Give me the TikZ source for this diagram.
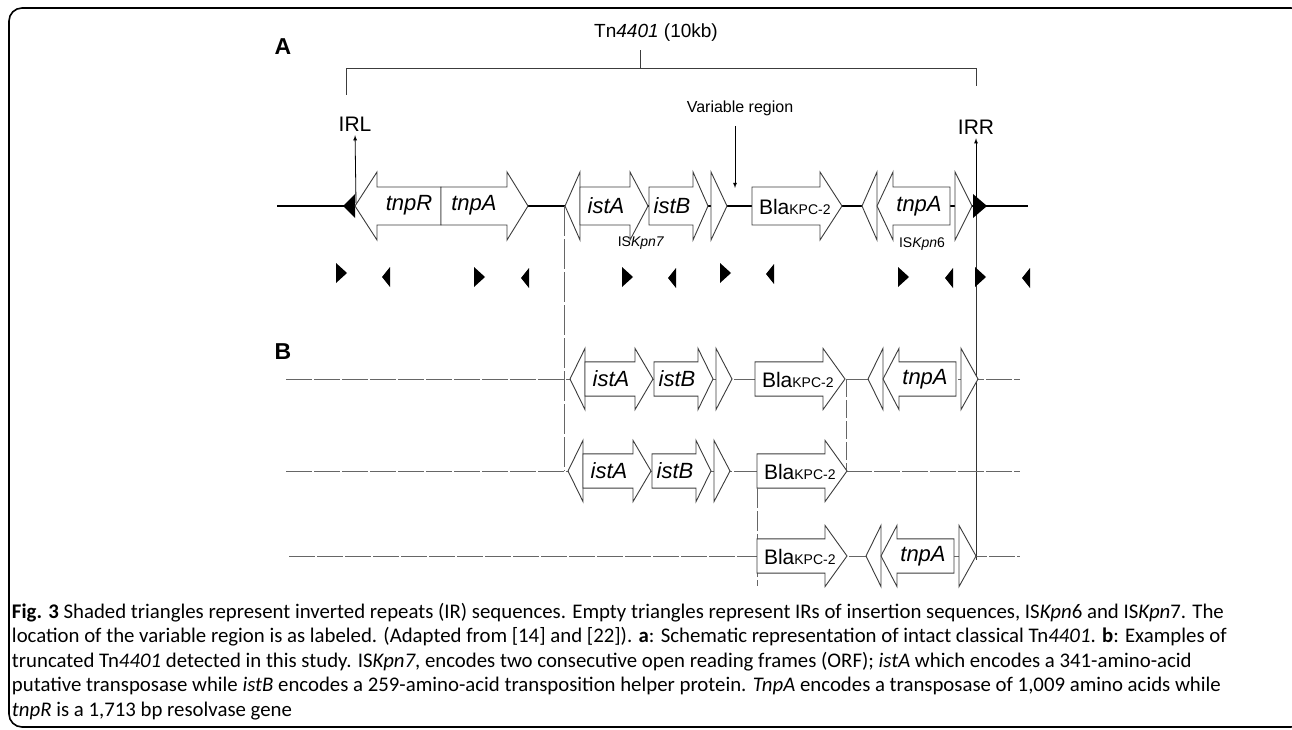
\documentclass[tikz,border=0pt]{standalone}
\usepackage{fontspec}
\setsansfont{Liberation Sans}
\newfontfamily\capfont{Carlito}
\usetikzlibrary{positioning}
\usetikzlibrary{arrows}
\definecolor{dgray}{RGB}{60,60,60}
\tikzset{
	every picture/.style={x=1pt,y=-1pt},
	every node/.style={inner sep=0pt,outer sep=0pt},
	backbone/.style={draw=black,line width=1.4pt},
	genebox/.style={draw=dgray,fill=white,line width=0.9pt},
	isbox/.style={draw=dgray,fill=white,line width=0.9pt},
	irtri/.style={fill=black},
	bracket/.style={draw=dgray,line width=0.8pt},
	trunc/.style={draw=black!60,line width=0.8pt,dash pattern=on 26pt off 2pt},
	genelabel/.style={font=\sffamily\itshape\fontsize{22}{24}\selectfont},
	plainlabel/.style={font=\sffamily\fontsize{21}{24}\selectfont},
	islabel/.style={font=\sffamily\fontsize{14}{16}\selectfont},
	panel/.style={font=\sffamily\bfseries\fontsize{23}{26}\selectfont},
	% IS Kpn7: IR, istA, istB, IR
	iskpnseven/.pic={
		\draw[isbox] (0,0) -- (15,-34) -- (15,34) -- cycle;
		\draw[genebox] (15,-19) -- (65,-19) -- (65,-34) -- (83,0) -- (65,34) -- (65,19) -- (15,19) -- cycle;
		\draw[genebox] (84,-19) -- (128,-19) -- (128,-34) -- (143,0) -- (128,34) -- (128,19) -- (84,19) -- cycle;
		\draw[isbox] (146,-34) -- (162,0) -- (146,34) -- cycle;
		\node[genelabel] (istA) at (41,0) {istA};
		\node[genelabel] (istB) at (107,0) {istB};
	},
	% blaKPC-2
	blakpc/.pic={
		\draw[genebox] (0,-19) -- (68,-19) -- (68,-34) -- (90,0) -- (68,34) -- (68,19) -- (0,19) -- cycle;
		\node[plainlabel,anchor=west] (bla) at (7,1) {Bla{\fontsize{14}{16}\selectfont KPC-2}};
	},
	% IS Kpn6: IR, tnpA, IR
	iskpnsix/.pic={
		\draw[isbox] (0,0) -- (15,-34) -- (15,34) -- cycle;
		\draw[genebox] (15,0) -- (31,-34) -- (31,-19) -- (88,-19) -- (88,19) -- (31,19) -- (31,34) -- cycle;
		\draw[isbox] (93,-34) -- (110,0) -- (93,34) -- cycle;
		\node[genelabel] (tnpA) at (57,0) {tnpA};
	},
}

\begin{document}
\begin{tikzpicture}
	\useasboundingbox (0,0) rectangle (1292,730);
	\clip (0,0) rectangle (1292,730);
	\draw[line width=1.6pt,rounded corners=13pt] (9,8) rectangle (1304,727);
	
	%panel A.....................
	\node[panel] (A) at (283,47) {A};
	\node[plainlabel,font=\sffamily\fontsize{19}{22}\selectfont] (tn) at (656,33) {Tn\textit{4401} (10kb)};
	\draw[bracket] (346,95) -- (346,68) -- (976,68) -- (976,86);
	\draw[bracket] (640,68) -- (640,50);
	
	% backbone...................
	\draw[backbone] (277,206) -- (1028,206);
	\draw[trunc,dash pattern=on 30pt off 3pt] (564,206) -- (564,471);
	\draw[line width=0.9pt,black!80] (976,206) -- (976,560);
	
	% IRL / IRR..................
	\fill[irtri] (343,206) -- (355,194) -- (355,218) -- cycle;
	\fill[irtri] (973,194) -- (987,206) -- (973,218) -- cycle;
	\coordinate (irl) at (356,203);
	\coordinate (irr) at (976,203);
	\node[plainlabel] (IRL) at (355,124) {IRL};
	\node[plainlabel] (IRR) at (976,127) {IRR};
	\draw[-latex,line width=0.8pt,shorten >=4pt] (irl) -- (IRL.south);
	\draw[-latex,line width=0.8pt,shorten >=4pt] (irr) -- (IRR.south);
	
	% tnpR / tnpA................
	\draw[genebox] (355,206) -- (377,172) -- (377,187) -- (441,187) -- (441,225) -- (377,225) -- (377,240) -- cycle;
	\draw[genebox] (441,187) -- (507,187) -- (507,172) -- (528,206) -- (507,240) -- (507,225) -- (441,225) -- cycle;
	\node[genelabel] (tnpR) at (409,205) {tnpR};
	\node[genelabel] (tnpA) at (474,205) {tnpA};
	
	\pic (a7) at (565,206) {iskpnseven};
	\pic (ab) at (752,206) {blakpc};
	\pic (a6) at (862,206) {iskpnsix};
	\node[islabel] (is7) at (641,243) {IS\textit{Kpn7}};
	\node[islabel] (is6) at (922,244) {IS\textit{Kpn}6};
	
	% variable region............
	\node[font=\sffamily\fontsize{16}{18}\selectfont] (var) at (740,108) {Variable region};
	\coordinate (varend) at (735,188);
	\draw[-latex,line width=0.8pt] (735,126) -- (varend);
	
	% inverted repeats...........
	\foreach \x/\y in {336/273,474/277,622/277,720/273,898/277,975/277}
		\fill[irtri] (\x,\y-10) -- (\x+11,\y) -- (\x,\y+10) -- cycle;
	\foreach \x/\y in {382/277,521/278,668/278,766/274,945/278,1022/278}
		\fill[irtri] (\x,\y) -- (\x+8,\y-10) -- (\x+8,\y+10) -- cycle;
	
	%panel B.....................
	\node[panel] (B) at (283,352) {B};
	
	% row 1......................
	\draw[trunc] (286,379) -- (1020,379);
	\pic[yscale=0.9] (b17) at (570,379) {iskpnseven};
	\pic[yscale=0.9] (b1b) at (755,379) {blakpc};
	\pic[yscale=0.9] (b16) at (868,379) {iskpnsix};
	\draw[trunc,dash pattern=on 18pt off 3pt] (846,379) -- (846,471);
	
	% row 2......................
	\draw[trunc] (286,471) -- (1020,471);
	\pic[yscale=0.9] (b27) at (568,471) {iskpnseven};
	\pic[yscale=0.9] (b2b) at (757,471) {blakpc};
	\draw[trunc,dash pattern=on 20pt off 3pt] (757,488) -- (757,586);
	
	% row 3......................
	\draw[trunc] (289,556) -- (1020,556);
	\pic[yscale=0.9] (b3b) at (757,556) {blakpc};
	\pic[yscale=0.9] (b36) at (866,556) {iskpnsix};
	
	% caption....................
	\node[anchor=north west,align=left,font=\capfont\fontsize{20.8}{24.5}\selectfont] (cap) at (12,603) {%
		\textbf{Fig. 3} Shaded triangles represent inverted repeats (IR) sequences. Empty triangles represent IRs of insertion sequences, IS\textit{Kpn}6 and IS\textit{Kpn}7. The\\
		location of the variable region is as labeled. (Adapted from [14] and [22]). \textbf{a}: Schematic representation of intact classical Tn\textit{4401}. \textbf{b}: Examples of\\
		truncated Tn\textit{4401} detected in this study. IS\textit{Kpn7}, encodes two consecutive open reading frames (ORF); \textit{istA} which encodes a 341-amino-acid\\
		putative transposase while \textit{istB} encodes a 259-amino-acid transposition helper protein. \textit{TnpA} encodes a transposase of 1,009 amino acids while\\
		\textit{tnpR} is a 1,713 bp resolvase gene};
\end{tikzpicture}
\end{document}
